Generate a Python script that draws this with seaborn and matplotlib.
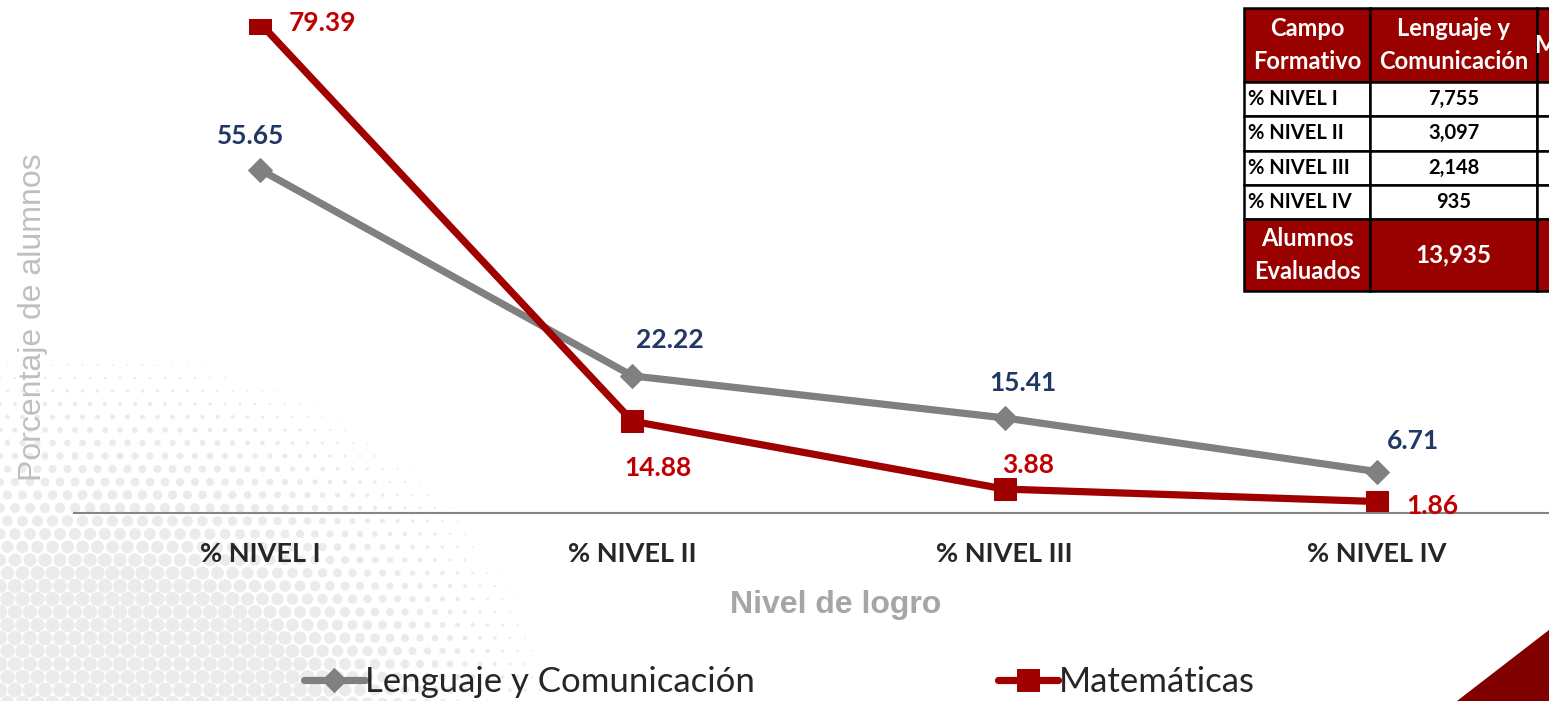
import numpy as np
import pandas as pd
import seaborn as sns
import matplotlib.pyplot as plt
from matplotlib.patches import Polygon

niveles = ['% NIVEL I', '% NIVEL II', '% NIVEL III', '% NIVEL IV']
lenguaje = [55.65, 22.22, 15.41, 6.71]
matematicas = [79.39, 14.88, 3.88, 1.86]

# table to the right (Matemáticas column is cut off by the edge)
alumnos_leng = ['7,755', '3,097', '2,148', '935']
alumnos_mat = ['11,063', '2,074', '541', '259']
total_leng = '13,935'
total_mat = '13,935'

sns.set_style('white')
plt.rcParams['font.family'] = ['Lato', 'DejaVu Sans']

fig = plt.figure(figsize=(15.49, 7.01), dpi=100)

# background: halftone dots bottom-left + red corner
bg = fig.add_axes([0, 0, 1, 1], zorder=0)
bg.set_xlim(0, 1549)
bg.set_ylim(701, 0)
bg.axis('off')
gx, gy = np.meshgrid(np.arange(0, 900, 15.0), np.arange(300, 720, 13.0))
gx = gx + (np.arange(gy.shape[0])[:, None] % 2) * 7.5
dist = np.hypot(gx - 100, (gy - 800) * 1.05)
rad = np.clip(7.5 * (1 - (dist - 230) / 260), 0, 7.2)
keep = rad > 0.6
bg.scatter(gx[keep], gy[keep], s=(2 * rad[keep] / 1.389) ** 2, color='#ebebeb', lw=0)
bg.add_patch(Polygon([[1457, 701], [1549, 630], [1549, 701]], color='#800000', lw=0))

ax = fig.add_axes([74 / 1549, 188 / 701, 1489 / 1549, 493.6 / 701], zorder=2)
ax.patch.set_alpha(0)

df = pd.DataFrame({'nivel': niveles,
                   'Lenguaje y Comunicación': lenguaje,
                   'Matemáticas': matematicas})

sns.lineplot(data=df, x='nivel', y='Lenguaje y Comunicación', ax=ax, sort=False,
             color='#808080', lw=5.2, marker='D', markersize=12, mec='#808080',
             label='Lenguaje y Comunicación')
sns.lineplot(data=df, x='nivel', y='Matemáticas', ax=ax, sort=False,
             color='#a00000', lw=5.2, marker='s', markersize=16.5, mec='#a00000',
             label='Matemáticas')

ax.set_xlim(-0.5, 3.5)
ax.set_ylim(0, 80)
for s in ['top', 'right', 'left']:
    ax.spines[s].set_visible(False)
ax.spines['bottom'].set_color('#868686')
ax.spines['bottom'].set_linewidth(1.5)
ax.set_yticks([])
ax.set_xlabel('')
ax.set_ylabel('')
ax.tick_params(axis='x', length=0, pad=21, labelsize=19.5)
for t in ax.get_xticklabels():
    t.set_fontweight('bold')

# data labels
leng_off = [(-7, 24), (27, 26), (13, 25), (26, 22)]
mat_off = [(45, 0), (18, -34), (17, 17), (40, -3)]
for i, v in enumerate(lenguaje):
    ax.annotate(f'{v:.2f}', (i, v), xytext=leng_off[i], textcoords='offset points',
                ha='center', va='center', fontsize=19, fontweight='bold', color='#1f3864')
for i, v in enumerate(matematicas):
    ax.annotate(f'{v:.2f}', (i, v), xytext=mat_off[i], textcoords='offset points',
                ha='center', va='center', fontsize=19, fontweight='bold', color='#c00000')

fig.text(33 / 1549, 1 - 317 / 701, 'Porcentaje de alumnos', rotation=90,
         ha='center', va='center', fontsize=23, color='#bfbfbf', family='Liberation Sans')
fig.text(836 / 1549, 1 - 605 / 701, 'Nivel de logro', ha='center', va='center',
         fontsize=23, fontweight='bold', color='#a6a6a6', family='Liberation Sans')

handles, labels = ax.get_legend_handles_labels()
ax.get_legend().remove()
fig.legend(handles, labels, ncol=2, loc='center', bbox_to_anchor=(0.503, 0.027),
           frameon=False, fontsize=25, handlelength=1.75, handletextpad=0.0,
           columnspacing=7.0)

# summary table
tax = fig.add_axes([1244 / 1549, 410 / 701, 423 / 1549, 283 / 701], zorder=3)
tax.axis('off')
cells = [['Campo\nFormativo', 'Lenguaje y\nComunicación', 'Matemáticas']]
for n, a, b in zip(niveles, alumnos_leng, alumnos_mat):
    cells.append([n, a, b])
cells.append(['Alumnos\nEvaluados', total_leng, total_mat])
tbl = tax.table(cellText=cells, colWidths=[126, 167, 130], cellLoc='center', bbox=[0, 0, 1, 1])
tbl.auto_set_font_size(False)
heights = [74, 34, 34, 34, 34, 72]
for (row, col), cell in tbl.get_celld().items():
    cell.set_height(heights[row])
    cell.set_edgecolor('black')
    cell.set_linewidth(1.8)
    red = row in (0, 5)
    cell.set_facecolor('#990000' if red else 'white')
    txt = cell.get_text()
    txt.set_color('white' if red else 'black')
    txt.set_fontweight('bold')
    txt.set_linespacing(1.55)
    txt.set_fontsize(17.5 if (row == 5 and col > 0) else (17 if red else 14.5))
    if col == 0 and not red:
        cell._loc = 'left'
        cell.PAD = 0.03
        txt.set_ha('left')

fig.savefig('out.png', dpi=100)
